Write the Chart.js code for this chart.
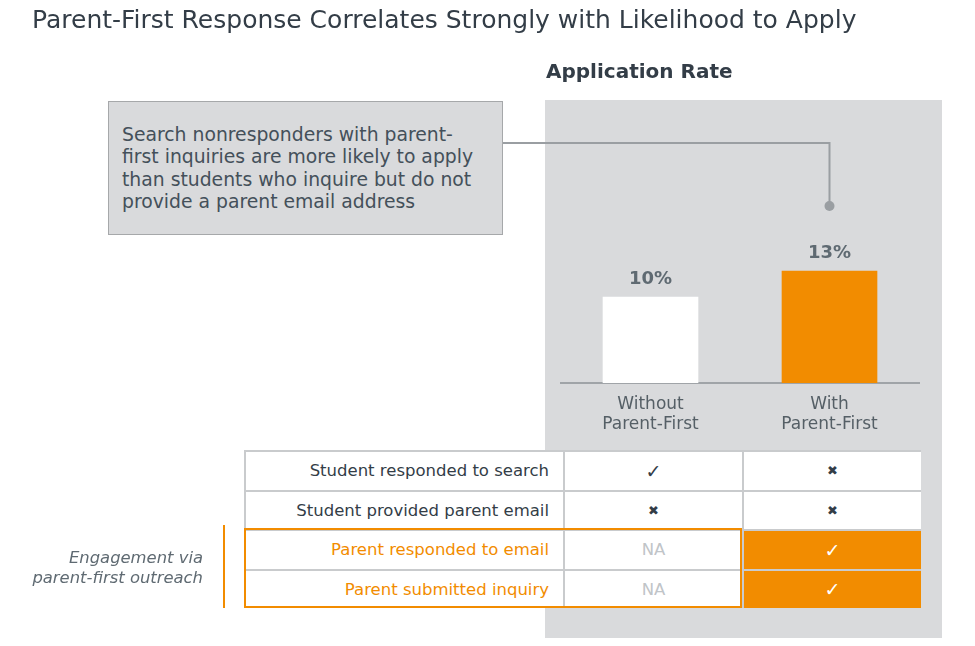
<!DOCTYPE html>
<html>
<head>
<meta charset="utf-8">
<script src="https://cdn.jsdelivr.net/npm/chart.js@4"></script>
<style>
  html, body { margin:0; padding:0; background:#ffffff; }
  body { width:975px; height:646px; position:relative; overflow:hidden; font-family:"DejaVu Sans", Verdana, sans-serif; }
  .abs { position:absolute; }
  #panel { left:545px; top:100px; width:397px; height:538px; background:#d9dadc; z-index:1; }
  #chartWrap { left:0; top:0; width:975px; height:646px; z-index:2; }
  #title { left:32px; top:5px; font-family:"DejaVu Sans", sans-serif; font-size:25px; line-height:30px; color:#333d47; white-space:nowrap; z-index:3; }
  #subtitle { left:546px; top:59px; font-family:"DejaVu Sans", sans-serif; font-weight:bold; font-size:20px; line-height:24px; color:#333d47; white-space:nowrap; z-index:3; }
  #note { left:108px; top:101px; width:393px; height:132px; background:#d9dadc; border:1px solid #a6a8aa; z-index:3; }
  #note div { position:absolute; left:13px; top:22px; font-size:18.8px; line-height:22.3px; color:#44505a; white-space:nowrap; }
  #table { left:244px; top:450px; width:677px; height:158px; background:#c9cbcd; z-index:3;
           display:grid; grid-template-columns:317px 177px 177px; grid-template-rows:repeat(4, 37.5px); gap:2px; padding:2px; box-sizing:border-box; }
  .cell { background:#ffffff; display:flex; align-items:center; justify-content:center; font-size:16.5px; color:#333d47; }
  .lab { justify-content:flex-end; padding-right:14px; }
  .orangeText { color:#f28c00; }
  .na { color:#c0c4c8; }
  .fill { background:#f28c00; color:#ffffff; }
  .mark-check { font-size:19px; }
  .mark-cross { font-size:13px; }
  #orangeBox { left:244px; top:528px; width:498px; height:80px; border:2px solid #f28c00; box-sizing:border-box; z-index:4; }
  #leftBar { left:223px; top:525px; width:2px; height:83px; background:#f28c00; z-index:3; }
  #side { left:0; top:548px; width:203px; text-align:right; font-style:italic; font-size:16.4px; line-height:20px; color:#5f6a72; z-index:3; }
</style>
</head>
<body>
<div id="panel" class="abs"></div>
<div id="chartWrap" class="abs"><canvas id="c" width="975" height="646"></canvas></div>
<div id="title" class="abs">Parent-First Response Correlates Strongly with Likelihood to Apply</div>
<div id="subtitle" class="abs">Application Rate</div>
<div id="note" class="abs"><div>Search nonresponders with parent-<br>first inquiries are more likely to apply<br>than students who inquire but do not<br>provide a parent email address</div></div>
<div id="table" class="abs"></div>
<div id="orangeBox" class="abs"></div>
<div id="leftBar" class="abs"></div>
<div id="side" class="abs">Engagement via<br>parent-first outreach</div>
<script>
// ---- data ----
const categories = [["Without", "Parent-First"], ["With", "Parent-First"]];
const rates = [10, 13];
const rateLabels = ["10%", "13%"];
const rowLabels = ["Student responded to search", "Student provided parent email", "Parent responded to email", "Parent submitted inquiry"];
const engagementRows = [false, false, true, true];
const withoutMarks = ["check", "cross", "NA", "NA"];
const withMarks = ["cross", "cross", "check", "check"];

// ---- table ----
const table = document.getElementById('table');
function markCell(m, filled) {
  const d = document.createElement('div');
  d.className = 'cell';
  if (m === 'check') { d.textContent = '\u2713'; d.classList.add('mark-check'); }
  else if (m === 'cross') { d.textContent = '\u2716'; d.classList.add('mark-cross'); }
  else { d.textContent = 'NA'; d.classList.add('na'); }
  if (filled) d.classList.add('fill');
  return d;
}
rowLabels.forEach((lab, i) => {
  const l = document.createElement('div');
  l.className = 'cell lab' + (engagementRows[i] ? ' orangeText' : '');
  l.textContent = lab;
  table.appendChild(l);
  table.appendChild(markCell(withoutMarks[i], false));
  table.appendChild(markCell(withMarks[i], engagementRows[i]));
});

// ---- chart ----
const extras = {
  id: 'extras',
  afterDatasetsDraw(chart) {
    const ctx = chart.ctx;
    const meta = chart.getDatasetMeta(0);
    ctx.save();
    ctx.font = 'bold 18px "DejaVu Sans"';
    ctx.fillStyle = '#5f6a72';
    ctx.textAlign = 'center';
    ctx.textBaseline = 'middle';
    meta.data.forEach((bar, i) => {
      ctx.fillText(rateLabels[i], bar.x, bar.y - 18);
    });
    // connector from note box to second bar
    const b = meta.data[1];
    ctx.strokeStyle = '#9a9ea2';
    ctx.lineWidth = 2;
    ctx.beginPath();
    ctx.moveTo(503, 143);
    ctx.lineTo(b.x, 143);
    ctx.lineTo(b.x, 205);
    ctx.stroke();
    ctx.fillStyle = '#9a9ea2';
    ctx.beginPath();
    ctx.arc(b.x, 206, 5, 0, Math.PI * 2);
    ctx.fill();
    ctx.restore();
  }
};

new Chart(document.getElementById('c'), {
  type: 'bar',
  data: {
    labels: categories,
    datasets: [{ data: rates, backgroundColor: ['#ffffff', '#f28c00'], borderWidth: 0, barThickness: 95 }]
  },
  options: {
    responsive: false,
    animation: false,
    events: [],
    layout: { padding: { left: 561, right: 56, top: 211, bottom: 203 } },
    plugins: { legend: { display: false }, tooltip: { enabled: false }, title: { display: false } },
    scales: {
      y: { display: false, min: 0, max: 20 },
      x: {
        afterFit: (s) => { s.height = 60; },
        grid: { display: false, drawTicks: false },
        border: { display: true, color: '#a0a4a8', width: 2 },
        ticks: { color: '#555f66', font: { family: 'DejaVu Sans', size: 17, lineHeight: 20 / 17 }, padding: 12, maxRotation: 0 }
      }
    }
  },
  plugins: [extras]
});
</script>
</body>
</html>
